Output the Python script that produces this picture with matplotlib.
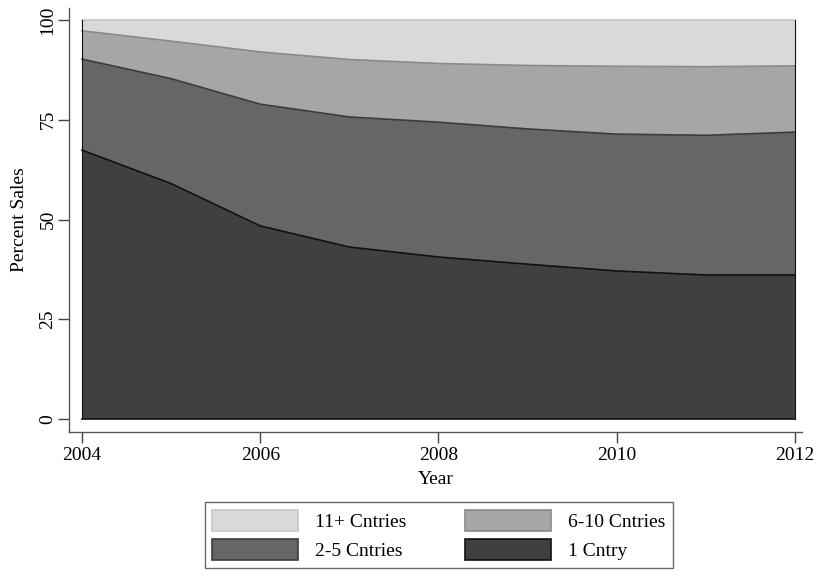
import matplotlib
matplotlib.use("Agg")
import matplotlib.pyplot as plt
from matplotlib.patches import Patch

plt.rcParams['font.family'] = ['Liberation Serif', 'DejaVu Serif']

years = [2004, 2005, 2006, 2007, 2008, 2009, 2010, 2011, 2012]
# percent of sales, by number of countries
one_cntry = [67.4, 59.0, 48.4, 43.1, 40.6, 38.8, 37.1, 36.1, 36.1]
two_five = [22.8, 26.3, 30.5, 32.6, 33.8, 33.9, 34.3, 35.0, 35.8]
six_ten = [7.1, 9.4, 13.1, 14.4, 14.7, 15.9, 17.0, 17.2, 16.6]
eleven_plus = [2.7, 5.3, 8.0, 9.9, 10.9, 11.4, 11.6, 11.7, 11.5]

labels = ['1 Cntry', '2-5 Cntries', '6-10 Cntries', '11+ Cntries']
fills = ['#404040', '#666666', '#a6a6a6', '#d9d9d9']
edges = ['#111111', '#3c3c3c', '#8a8a8a', '#c6c6c6']
fs = 14

fig = plt.figure(figsize=(8.18, 5.71), dpi=100)
ax = fig.add_axes([69 / 818, 139 / 571, 733 / 818, 424 / 571])

series = [one_cntry, two_five, six_ten, eleven_plus]
base = [0.0] * len(years)
for vals, fc, ec in zip(series, fills, edges):
    top = [b + v for b, v in zip(base, vals)]
    ax.fill_between(years, base, top, facecolor=fc, edgecolor='none', zorder=2)
    ax.plot(years, top, color=ec, lw=1.2, zorder=3)
    base = top
# outline of the stacked block
ax.plot([years[0], years[-1]], [0, 0], color='#111111', lw=1.2, zorder=3)
ax.plot([years[0], years[0]], [0, base[0]], color='#111111', lw=0.8, zorder=3)
ax.plot([years[-1], years[-1]], [0, base[-1]], color='#111111', lw=0.8, zorder=3)

ax.set_xlim(2004 - 13 / 89.125, 2012 + 7 / 89.125)
ax.set_ylim(-13 / 3.99, 100 + 12 / 3.99)
ax.set_xticks([2004, 2006, 2008, 2010, 2012])
ax.set_yticks([0, 25, 50, 75, 100])
ax.spines['top'].set_visible(False)
ax.spines['right'].set_visible(False)
for s in ['left', 'bottom']:
    ax.spines[s].set_color('#555555')
    ax.spines[s].set_linewidth(1.0)
ax.tick_params(axis='both', length=8, width=1.0, color='#444444', labelsize=fs)
ax.tick_params(axis='x', pad=3)
ax.tick_params(axis='y', pad=1)
plt.setp(ax.get_yticklabels(), rotation=90, va='center')

ax.set_xlabel('Year', fontsize=fs, labelpad=5)
ax.set_ylabel('Percent Sales', fontsize=fs, labelpad=8)

order = [3, 1, 2, 0]
handles = [Patch(facecolor=fills[i], edgecolor=edges[i], linewidth=1.2, label=labels[i]) for i in order]
leg = fig.legend(handles=handles, loc='upper center', bbox_to_anchor=(439 / 818, 1 - 502 / 571),
                 ncol=2, fontsize=fs, frameon=True, fancybox=False,
                 handlelength=4.4, handleheight=1.3, columnspacing=3.0,
                 handletextpad=0.9, borderpad=0.4, labelspacing=0.4, borderaxespad=0)
leg.get_frame().set_edgecolor('#444444')
leg.get_frame().set_linewidth(1.0)

fig.savefig('out.png', dpi=100)
